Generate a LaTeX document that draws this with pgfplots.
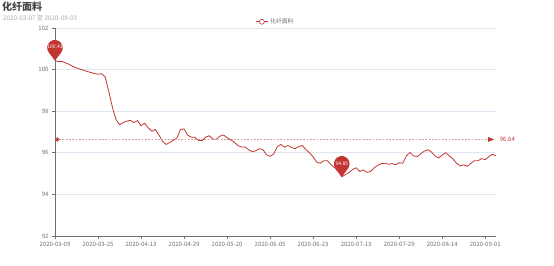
\documentclass[border=0pt]{standalone}
\usepackage{fontspec}
\setmainfont{Noto Sans CJK SC}
\usepackage{pgfplots}
\pgfplotsset{compat=1.18}
\usetikzlibrary{arrows.meta}
\definecolor{ser}{HTML}{C23531}
\definecolor{axgray}{HTML}{6E7079}
\definecolor{gridc}{HTML}{E0E6F1}
\definecolor{titc}{HTML}{464646}
\definecolor{subc}{HTML}{AAAAAA}
\pgfdeclareplotmark{pin}{%
  \pgfpathmoveto{\pgfpoint{0pt}{0pt}}%
  \pgfpathlineto{\pgfpoint{-6.2pt}{8.1pt}}%
  \pgfpatharc{218}{-38}{7.8pt}%
  \pgfpathclose
  \pgfusepath{fill}%
}
\pgfplotstableread{
x y
0 100.43
1 100.38
2 100.39
3 100.32
4 100.25
5 100.15
6 100.08
7 100.02
8 99.97
9 99.91
10 99.86
11 99.81
12 99.78
13 99.80
14 99.65
15 98.95
16 98.20
17 97.60
18 97.35
19 97.45
20 97.52
21 97.56
22 97.45
23 97.55
24 97.30
25 97.42
26 97.20
27 97.04
28 97.12
29 96.85
30 96.55
31 96.40
32 96.50
33 96.60
34 96.70
35 97.12
36 97.15
37 96.85
38 96.75
39 96.75
40 96.60
41 96.58
42 96.75
43 96.82
44 96.66
45 96.65
46 96.80
47 96.86
48 96.72
49 96.62
50 96.51
51 96.35
52 96.28
53 96.28
54 96.15
55 96.05
56 96.10
57 96.20
58 96.15
59 95.90
60 95.83
61 95.95
62 96.30
63 96.40
64 96.27
65 96.35
66 96.25
67 96.20
68 96.30
69 96.35
70 96.15
71 96.00
72 95.80
73 95.55
74 95.50
75 95.62
76 95.62
77 95.42
78 95.28
79 95.10
80 94.85
81 94.95
82 95.05
83 95.20
84 95.28
85 95.10
86 95.18
87 95.06
88 95.10
89 95.28
90 95.40
91 95.48
92 95.50
93 95.45
94 95.48
95 95.42
96 95.52
97 95.50
98 95.85
99 96.02
100 95.85
101 95.82
102 95.95
103 96.08
104 96.15
105 96.04
106 95.85
107 95.75
108 95.90
109 96.00
110 95.85
111 95.70
112 95.50
113 95.37
114 95.42
115 95.35
116 95.50
117 95.62
118 95.62
119 95.72
120 95.67
121 95.82
122 95.93
123 95.85
}\datatab
\begin{document}
\begin{tikzpicture}
\useasboundingbox (0,0) rectangle (554pt,265pt);
\node[anchor=north west, inner sep=0pt, font=\bfseries\fontsize{10}{12}\selectfont, text=titc] at (2pt,263pt) {化纤面料};
\node[anchor=north west, inner sep=0pt, font=\fontsize{6.3}{7}\selectfont, text=subc] at (3pt,250pt) {2020-03-07 至 2020-09-03};
\begin{axis}[
  at={(55pt,29pt)}, anchor=south west,
  scale only axis, width=441pt, height=208pt,
  xmin=0, xmax=123, ymin=92, ymax=102,
  ytick={92,94,...,102},
  xtick={0,12,...,120},
  xticklabels={2020-03-09,2020-03-25,2020-04-13,2020-04-29,2020-05-20,2020-06-05,2020-06-23,2020-07-13,2020-07-29,2020-08-14,2020-09-01},
  axis x line*=bottom, axis y line*=left,
  ymajorgrids, grid style={gridc, line width=0.6pt},
  axis line style={axgray, line width=0.6pt},
  tick style={axgray, line width=0.6pt},
  tick align=outside, major tick length=3pt,
  ticklabel style={font=\fontsize{6}{7}\selectfont, text=axgray},
  xticklabel style={yshift=0pt},
  /pgf/number format/assume math mode=true,
  clip=false,
  legend style={at={(0.5,1.03)}, anchor=center, draw=none, fill=none,
    font=\fontsize{5.8}{7}\selectfont, text=axgray, inner sep=1pt},
  legend cell align=left,
]
\addplot[ser, line width=0.8pt, mark=none, line join=round,
  legend image code/.code={\draw[ser, line width=0.7pt] (0pt,0pt) -- (12pt,0pt);
    \draw[ser, fill=white, line width=0.6pt] (6pt,0pt) circle (2.5pt);}
  ] table[x=x,y=y] {\datatab};
\addlegendentry{化纤面料}
\addplot[ser!50, line width=0.7pt, dash pattern=on 1.8pt off 1.5pt, forget plot,
  {Circle[length=4.5pt, ser!90, sep=0pt]}-{Triangle[length=6pt, width=4.5pt, ser]}]
  coordinates {(0,96.64) (122.5,96.64)}
  node[pos=1, anchor=west, xshift=2pt, font=\fontsize{6}{7}\selectfont, text=ser] {96.64};
\addplot[ser, only marks, mark=pin, mark options={fill=ser, draw=none}, forget plot,
  point meta=explicit symbolic, nodes near coords,
  every node near coord/.append style={anchor=center, yshift=13.5pt, inner sep=0pt,
    text=white, font=\fontsize{5}{6}\selectfont}]
  coordinates {(0,100.43) [100.43] (80,94.85) [94.85]};
\end{axis}
\end{tikzpicture}
\end{document}
